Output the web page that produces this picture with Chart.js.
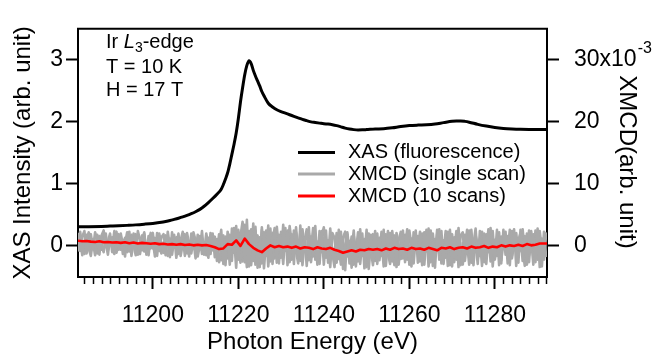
<!DOCTYPE html>
<html><head><meta charset="utf-8">
<script src="https://cdn.jsdelivr.net/npm/chart.js@4.4.1/dist/chart.umd.min.js"></script>
<style>html,body{margin:0;padding:0;background:#fff}canvas{display:block}</style>
</head><body><canvas id="c" width="656" height="358"></canvas>
<script>
// ---------- data ----------
const xasEnergy = [11182.5,11183,11185,11188,11190,11192,11194,11196,11198,11200,11202,11203,11204,11205,11206,11207,11208,11209,11210,11211,11212,11213,11214,11215,11216,11216.5,11217,11217.5,11218,11218.5,11219,11219.5,11220,11220.5,11221,11221.5,11222,11222.5,11223,11223.5,11224,11224.5,11225,11225.5,11226,11227,11228,11229,11230,11231,11232,11233,11234,11235,11236,11237,11238,11239,11240,11241,11242,11243,11244,11245,11246,11247,11248,11249,11250,11252,11254,11256,11258,11260,11262,11264,11266,11268,11270,11271,11272,11273,11274,11276,11278,11280,11282,11284,11286,11288,11290,11292];
const xasIntensity = [0.310,0.310,0.311,0.315,0.320,0.325,0.332,0.340,0.351,0.364,0.382,0.395,0.410,0.428,0.447,0.468,0.492,0.520,0.552,0.590,0.640,0.700,0.765,0.835,0.915,0.990,1.08,1.18,1.32,1.48,1.64,1.82,2.05,2.32,2.55,2.76,2.91,2.985,2.94,2.83,2.74,2.66,2.58,2.49,2.42,2.30,2.24,2.195,2.165,2.14,2.115,2.09,2.065,2.04,2.02,2.00,1.99,1.98,1.97,1.965,1.955,1.94,1.92,1.90,1.885,1.875,1.87,1.872,1.876,1.885,1.89,1.905,1.925,1.94,1.948,1.953,1.965,1.988,2.01,2.015,2.015,2.008,1.995,1.96,1.932,1.91,1.895,1.886,1.88,1.877,1.876,1.876];

// XMCD values in units of 10^-3
const xmcd10Start = 11182.5, xmcd10Step = 1;
const xmcd10Scans = [
0.85,0.75,0.8,0.7,0.65,0.75,0.6,0.65,0.55,0.6,
0.5,0.6,0.45,0.55,0.4,0.5,0.45,0.35,0.45,0.3,
0.35,0.25,0.3,0.2,0.3,0.15,0.25,0.1,0.2,0.1,
0.15,0.0,-0.2,-0.5,-0.4,0.3,0.2,0.9,0.0,1.2,
0.3,-0.3,-0.7,-1.0,-0.4,0.1,-0.2,0.0,-0.2,-0.1,
-0.3,-0.1,-0.4,-0.2,-0.3,-0.5,-0.2,-0.4,-0.5,-0.3,
-0.6,-0.8,-1.1,-0.9,-0.7,-0.9,-0.6,-0.7,-0.5,-0.6,
-0.5,-0.7,-0.4,-0.6,-0.3,-0.5,-0.4,-0.6,-0.3,-0.5,
-0.4,-0.6,-0.3,-0.5,-0.7,-0.3,-0.4,-0.2,-0.5,-0.3,
-0.2,-0.4,-0.1,-0.3,-0.2,0.0,-0.3,-0.1,-0.2,0.1,
-0.1,0.1,0.0,0.2,0.0,0.3,0.1,0.2,0.4,0.4,0.4];

const singleStart = 11182.5, singleStep = 0.5;
const xmcdSingleA = [
2.1,-0.8,1.5,2.4,-1.2,0.3,1.9,-0.5,2.2,0.9,-1.4,1.7,2.5,-0.2,0.8,2.0,-1.0,1.2,2.3,-0.6,
1.6,-1.3,0.4,2.2,-0.9,1.8,0.1,-1.5,2.4,1.0,-0.7,1.9,-1.2,0.6,2.1,-0.4,1.3,-1.6,2.0,0.2,
-1.1,1.7,0.5,-1.8,2.2,-0.3,1.4,-1.3,0.9,2.3,-0.8,1.1,-1.7,2.0,0.4,-1.0,1.8,-0.6,2.4,-1.4,
0.8,-1.9,2.1,-0.7,1.5,-2.4,0.3,2.6,-2.9,-0.4,1.2,-3.0,2.8,-1.1,3.2,-2.2,1.6,3.9,-2.6,4.2,
-3.3,2.7,-2.4,3.1,-3.5,1.4,-2.8,2.2,-1.6,3.3,-2.5,0.9,2.9,-2.7,1.8,-1.9,3.4,-0.8,2.5,-2.6,
1.9,-2.9,3.0,-1.4,2.2,-3.1,0.8,2.7,-2.3,1.5,-1.7,3.2,-2.6,0.4,2.4,-3.0,1.1,-2.0,2.8,-1.2,
-3.4,1.6,-2.1,2.3,-3.7,0.2,1.9,-2.8,-0.6,2.5,-3.3,1.0,-1.8,2.0,-3.6,0.7,-2.4,1.8,-1.1,2.4,
-2.9,1.3,-1.6,2.6,-3.2,0.5,2.1,-2.5,1.7,-3.4,0.9,2.3,-2.0,-0.4,2.7,-3.0,1.2,-1.5,2.5,-2.7,
1.5,-3.1,2.2,-0.9,2.8,-2.6,0.6,-3.5,1.9,-1.3,2.4,-2.9,1.0,-0.2,2.6,-3.3,1.4,-2.2,2.9,-1.0,
-3.0,1.8,-1.2,2.5,-2.7,0.3,2.8,-2.1,1.1,-3.2,2.0,-0.7,2.7,-2.5,0.8,-1.9,2.6,-3.1,1.5,-0.5,
2.3,-2.8,1.0,-1.6,2.7,-3.2,0.9,2.1,-2.4,1.6,-3.0,2.5,-0.8,1.9,-2.6,2.8,-3.4,1.2,-2.2,2.0];
const xmcdSingleB = [
-0.9,1.3,-1.5,0.6,1.8,-0.4,-1.6,1.1,0.2,-1.2,1.6,0.0,-1.0,2.0,-0.7,0.5,1.4,-1.3,0.7,1.9,
-0.6,1.0,-1.7,1.5,0.3,-1.1,2.0,-0.3,-1.4,0.8,1.7,-0.9,0.5,-1.5,1.2,2.1,-1.0,0.6,-0.8,1.4,
1.9,-0.5,-1.6,1.2,0.0,1.8,-1.9,0.7,-0.4,1.5,-1.6,2.1,0.3,-1.2,1.0,-2.0,0.6,1.6,-1.3,0.5,
-1.5,1.3,-0.2,2.0,-1.8,1.1,-2.6,-1.0,1.7,-3.1,2.3,0.2,-2.4,2.9,-1.5,1.0,-2.7,2.4,0.5,-3.4,
2.4,-1.8,3.6,-3.0,1.7,-2.2,2.6,-3.6,0.9,-1.4,2.8,-2.9,1.5,-0.6,-2.8,2.3,-1.2,2.9,-3.1,1.3,
-2.2,2.5,-0.9,-2.8,3.3,-1.6,1.4,-3.2,2.0,-0.5,2.9,-2.2,0.7,-2.9,1.6,3.0,-1.9,0.9,-3.4,2.1,
1.3,-2.7,2.6,-1.4,0.6,-3.9,2.2,-0.9,1.5,-3.0,0.4,-2.5,2.7,-1.6,1.1,-3.4,2.0,-0.7,-3.1,0.9,
2.0,-2.3,0.8,-3.3,1.9,-1.2,-2.9,2.4,-0.6,1.2,-3.0,0.3,2.5,-2.6,1.5,-1.0,-3.3,2.2,-0.2,1.6,
-2.5,2.0,-3.0,1.4,-1.4,2.5,-3.2,1.1,-0.5,2.7,-2.8,0.9,-1.9,2.3,-3.1,1.3,-0.8,2.4,-3.4,1.7,
2.2,-2.4,0.6,-3.0,2.6,-1.5,0.4,-2.9,2.4,-0.3,-2.6,1.9,-1.0,2.9,-3.3,1.0,-1.6,2.2,-2.8,2.6,
-1.4,1.6,-3.1,2.4,-0.6,1.3,-2.7,2.6,-0.4,-3.2,2.0,-1.5,1.1,-3.0,2.5,-1.0,1.5,-3.3,2.3,-1.8];
const xmcdSingleC = [
0.4,2.3,0.0,-1.3,1.0,2.2,-0.9,0.6,-1.5,1.8,0.2,-0.6,2.1,0.5,-1.4,1.5,-0.3,2.4,-1.1,0.3,
2.0,0.1,1.3,-1.0,2.3,-1.6,0.8,1.9,-0.5,-1.3,1.1,2.2,-1.4,1.6,-0.4,0.7,-1.7,2.1,0.4,-1.2,
0.6,-1.5,2.3,-0.2,-1.4,1.0,0.2,2.0,-1.6,0.3,1.9,-1.2,0.8,-0.6,2.2,0.9,-1.7,0.1,1.2,-0.9,
2.0,0.2,-1.3,1.6,0.6,-1.0,1.9,-2.3,0.4,1.5,-2.0,1.8,-0.9,1.3,-3.5,2.6,0.3,-2.5,3.4,-1.9,
1.0,-3.1,0.6,2.4,-1.2,-3.4,3.0,-0.9,2.5,-3.3,0.7,2.1,-2.0,3.1,-0.5,1.0,-2.9,2.0,-0.8,3.2,
0.5,-1.4,2.2,-0.8,-2.4,2.7,-0.2,-1.8,3.0,-2.6,0.6,1.5,-3.0,2.4,-1.0,0.9,2.5,-2.7,1.0,-0.4,
-1.6,2.1,-0.3,-3.0,1.4,2.3,-1.7,0.8,-3.5,1.6,-0.9,2.2,-2.9,0.5,-1.4,2.6,-3.7,0.3,1.9,-2.4,
0.6,-1.0,2.3,-1.8,-0.5,2.4,-1.3,-0.2,-3.1,2.1,0.2,-2.1,-0.6,1.8,-2.2,2.5,0.0,-2.8,1.3,-0.4,
2.3,-0.7,-1.6,2.6,-3.3,0.4,2.0,-1.7,2.6,-2.2,0.2,-1.0,2.4,-3.2,0.8,1.9,-2.6,0.4,1.1,-3.1,
0.5,-0.8,2.6,-1.9,1.2,-3.1,1.7,0.2,-1.6,2.3,-0.5,-2.9,1.6,-0.6,2.4,-2.2,0.5,1.1,-2.3,0.9,
1.1,-0.9,2.6,-2.0,0.4,2.1,-1.2,-0.6,2.7,-1.1,0.8,-2.6,2.4,-0.3,1.2,-2.2,2.4,-0.6,0.5,2.2];

const xMajorTicks = [11200, 11220, 11240, 11260, 11280];
const xMinorTickStep = 2;
const leftTicks = [0, 1, 2, 3];
const rightTicks = [0, 10, 20, 30];
const legendLabels = ['XAS (fluorescence)', 'XMCD (single scan)', 'XMCD (10 scans)'];
const annotationLines = ['T = 10 K', 'H = 17 T'];

// ---------- build ----------
const FONT = "'Liberation Sans', Arial, sans-serif";
const BLACK = '#000000', GRAY = '#a9a9a9', RED = '#ff0000';
const pts = (start, step, arr) => arr.map((v, i) => ({x: start + i * step, y: v}));
const xasData = xasEnergy.map((e, i) => ({x: e, y: xasIntensity[i]}));

const common = {fill: false, pointRadius: 0, tension: 0, borderJoinStyle: 'round'};
const datasets = [
  {...common, label: legendLabels[0], data: xasData, yAxisID: 'y', borderColor: BLACK, borderWidth: 3, cubicInterpolationMode: 'monotone'},
  {...common, label: legendLabels[2], data: pts(xmcd10Start, xmcd10Step, xmcd10Scans), yAxisID: 'y2', borderColor: RED, borderWidth: 2.6},
  {...common, label: legendLabels[1], data: pts(singleStart, singleStep, xmcdSingleA), yAxisID: 'y2', borderColor: GRAY, borderWidth: 2.6},
  {...common, label: legendLabels[1], data: pts(singleStart, singleStep, xmcdSingleB), yAxisID: 'y2', borderColor: GRAY, borderWidth: 2.6},
  {...common, label: legendLabels[1], data: pts(singleStart, singleStep, xmcdSingleC), yAxisID: 'y2', borderColor: GRAY, borderWidth: 2.6}
];

const gridCfg = {drawOnChartArea: false, drawTicks: true, tickLength: 12, tickWidth: 2, tickColor: BLACK};
const borderCfg = {display: true, color: BLACK, width: 2};

const decorPlugin = {
  id: 'decor',
  afterDraw(chart) {
    const ctx = chart.ctx, ca = chart.chartArea;
    const xs = chart.scales.x, y2 = chart.scales.y2;
    ctx.save();
    // top frame line
    ctx.strokeStyle = BLACK; ctx.lineWidth = 2;
    ctx.beginPath(); ctx.moveTo(ca.left - 1, ca.top); ctx.lineTo(ca.right + 1, ca.top); ctx.stroke();
    // minor x ticks
    ctx.lineWidth = 1.5;
    for (let v = Math.ceil(xs.min / xMinorTickStep) * xMinorTickStep; v <= xs.max; v += xMinorTickStep) {
      if (xMajorTicks.includes(v)) continue;
      const px = Math.round(xs.getPixelForValue(v)) + 0.5;
      ctx.beginPath(); ctx.moveTo(px, ca.bottom); ctx.lineTo(px, ca.bottom + 7); ctx.stroke();
    }
    // superscript of right axis top label
    ctx.fillStyle = BLACK;
    ctx.font = '23px ' + FONT;
    const base = '30x10';
    const w = ctx.measureText(base).width;
    const lx = y2.left + 12 + 15 + w;
    const ly = y2.getPixelForValue(rightTicks[rightTicks.length - 1]);
    ctx.font = '16px ' + FONT;
    ctx.textBaseline = 'middle'; ctx.textAlign = 'left';
    ctx.fillText('-3', lx + 1, ly - 11);
    // right axis title
    ctx.save();
    ctx.font = '24px ' + FONT;
    ctx.translate(627, 162);
    ctx.rotate(Math.PI / 2);
    ctx.textAlign = 'center'; ctx.textBaseline = 'middle';
    ctx.fillText('XMCD(arb. unit)', 0, 0);
    ctx.restore();
    // annotation
    const ax = 106;
    ctx.font = '20px ' + FONT; ctx.textBaseline = 'middle'; ctx.textAlign = 'left';
    let cx = ax;
    ctx.fillText('Ir ', cx, 42); cx += ctx.measureText('Ir ').width;
    ctx.font = 'italic 20px ' + FONT;
    ctx.fillText('L', cx, 42); cx += ctx.measureText('L').width;
    ctx.font = '14px ' + FONT;
    ctx.fillText('3', cx, 48); cx += ctx.measureText('3').width;
    ctx.font = '20px ' + FONT;
    ctx.fillText('-edge', cx, 42);
    ctx.fillText(annotationLines[0], ax, 67);
    ctx.fillText(annotationLines[1], ax, 90);
    // legend
    const rows = [152.5, 174, 196];
    const cols = [BLACK, GRAY, RED];
    for (let i = 0; i < 3; i++) {
      ctx.strokeStyle = cols[i]; ctx.lineWidth = 3;
      ctx.beginPath(); ctx.moveTo(298, rows[i]); ctx.lineTo(335, rows[i]); ctx.stroke();
      ctx.fillStyle = BLACK;
      ctx.fillText(legendLabels[i], 348, rows[i]);
    }
    ctx.restore();
  }
};

new Chart(document.getElementById('c'), {
  type: 'line',
  data: {datasets},
  options: {
    responsive: false, animation: false, devicePixelRatio: 1,
    layout: {padding: {top: 10, left: 0, right: 0, bottom: 0}},
    plugins: {legend: {display: false}, tooltip: {enabled: false}},
    scales: {
      x: {
        type: 'linear', position: 'bottom', min: 11182.5, max: 11292.2,
        afterBuildTicks: s => { s.ticks = xMajorTicks.map(v => ({value: v})); },
        afterFit: s => { s.height = 81; },
        grid: gridCfg, border: borderCfg,
        ticks: {color: BLACK, font: {family: FONT, size: 23}, padding: 13, maxRotation: 0, autoSkip: false, callback: v => String(v)},
        title: {display: true, text: 'Photon Energy (eV)', color: BLACK, font: {family: FONT, size: 24}, padding: {top: 0, bottom: 1}}
      },
      y: {
        type: 'linear', position: 'left', min: -0.5, max: 3.5,
        afterBuildTicks: s => { s.ticks = leftTicks.map(v => ({value: v})); },
        afterFit: s => { s.width = 78; },
        grid: gridCfg, border: borderCfg,
        ticks: {color: BLACK, font: {family: FONT, size: 23}, padding: 3, callback: v => String(v)},
        title: {display: true, text: 'XAS Intensity (arb. unit)', color: BLACK, font: {family: FONT, size: 24}, padding: {top: 9, bottom: 0}}
      },
      y2: {
        type: 'linear', position: 'right', min: -5, max: 35,
        afterBuildTicks: s => { s.ticks = rightTicks.map(v => ({value: v})); },
        afterFit: s => { s.width = 109; },
        grid: gridCfg, border: borderCfg,
        ticks: {color: BLACK, font: {family: FONT, size: 23}, padding: 15, callback: v => v === 30 ? '30x10' : String(v)}
      }
    }
  },
  plugins: [decorPlugin]
});
</script>
</body></html>
